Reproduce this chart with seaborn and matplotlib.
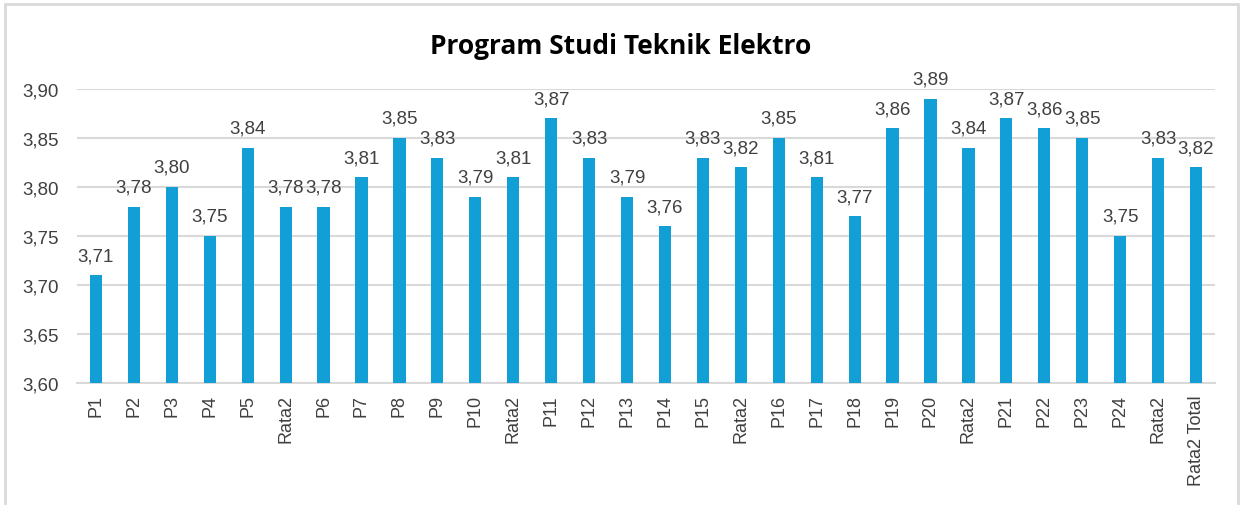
import matplotlib
matplotlib.use("Agg")
import matplotlib.pyplot as plt
import seaborn as sns
import numpy as np
from matplotlib.patches import Rectangle

categories = ["P1", "P2", "P3", "P4", "P5", "Rata2", "P6", "P7", "P8", "P9", "P10", "Rata2",
              "P11", "P12", "P13", "P14", "P15", "Rata2", "P16", "P17", "P18", "P19", "P20", "Rata2",
              "P21", "P22", "P23", "P24", "Rata2", "Rata2 Total"]
values = [3.71, 3.78, 3.80, 3.75, 3.84, 3.78, 3.78, 3.81, 3.85, 3.83, 3.79, 3.81,
          3.87, 3.83, 3.79, 3.76, 3.83, 3.82, 3.85, 3.81, 3.77, 3.86, 3.89, 3.84,
          3.87, 3.86, 3.85, 3.75, 3.83, 3.82]
yticks = [3.60, 3.65, 3.70, 3.75, 3.80, 3.85, 3.90]
title = "Program Studi Teknik Elektro"

sns.set_theme(style="white")
plt.rcParams['font.family'] = ['Liberation Sans', 'DejaVu Sans']

fig = plt.figure(figsize=(12.42, 5.06), dpi=100)
ax = fig.add_axes([77/1242, 1 - 384/506, (1215 - 77)/1242, (384 - 90)/506])

pos = list(range(len(categories)))
sns.barplot(x=pos, y=values, color="#119FD6", saturation=1, width=0.32, ax=ax,
            zorder=3, linewidth=0, edgecolor="none")

ax.set_ylim(3.60, 3.90)
ax.set_xlim(-0.5, len(categories) - 0.5)
ax.set_yticks(yticks)
ax.set_yticklabels([f"{v:.2f}".replace(".", ",") for v in yticks], fontsize=13.5, color="#404040")
ax.set_xticks(pos)
ax.set_xticklabels(categories, rotation=90, fontsize=13, color="#404040")
ax.tick_params(axis="x", length=0, pad=8)
ax.tick_params(axis="y", length=0, pad=13)
ax.grid(axis="y", color="#D9D9D9", linewidth=1.5, zorder=0)
for s in ["left", "right", "top"]:
    ax.spines[s].set_visible(False)
ax.spines["bottom"].set_color("#D9D9D9")
ax.spines["bottom"].set_linewidth(1.5)
ax.set_xlabel("")
ax.set_ylabel("")

ax.bar_label(ax.containers[0], labels=[f"{v:.2f}".replace(".", ",") for v in values],
             padding=8, fontsize=13.5, color="#404040")

fig.text(0.5, 1 - 46/506, title, ha="center", va="center", fontsize=19,
         fontweight="bold", family=["Open Sans", "DejaVu Sans"], color="#000000")

fig.patches.append(Rectangle((5/1242, -0.05), (1238 - 5)/1242, 1 - 5/506 + 0.05,
                             transform=fig.transFigure, fill=False,
                             edgecolor="#D9D9D9", linewidth=2))

fig.savefig("out.png", dpi=100, facecolor="white")
